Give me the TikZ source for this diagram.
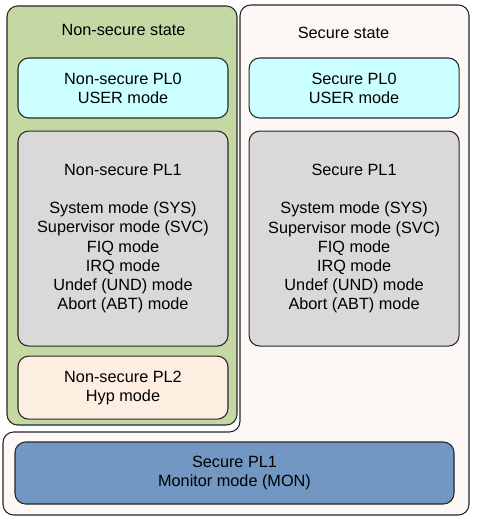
\documentclass[tikz,border=0pt]{standalone}
\usepackage{fontspec}
\setmainfont{Liberation Sans}
\usetikzlibrary{positioning}

\definecolor{nsgreen}{RGB}{197,216,164}
\definecolor{secpink}{RGB}{253,248,246}
\definecolor{plzero}{RGB}{204,255,255}
\definecolor{plone}{RGB}{217,217,217}
\definecolor{pltwo}{RGB}{253,238,226}
\definecolor{monblue}{RGB}{113,151,194}

\tikzset{
  modebox/.style={rectangle, rounded corners=8pt, draw=black!85, line width=0.8pt, align=center, inner sep=0pt, minimum width=157.5pt},
  statetext/.style={inner sep=0pt},
  every node/.style={font=\fontsize{12.2}{14.3}\selectfont}
}

\begin{document}
\begin{tikzpicture}[x=0.75pt, y=-0.75pt]
        \useasboundingbox (0,0) rectangle (476,523);

        \path[fill=secpink, draw=black!85, line width=0.8pt, rounded corners=8pt]
          (240,5) -- (469,5) -- (469,515) -- (3,515) -- (3,432) -- (240,432) -- cycle;
        \node[rectangle, rounded corners=8pt, draw=black!85, line width=0.8pt, fill=nsgreen, minimum width=172.5pt, minimum height=314.25pt, inner sep=0pt] (nsstate) at (122,215.5) {};

        \node[statetext] (nslabel) at (123.5,30) {Non-secure state};
        \node[statetext] (slabel) at (343.5,33) {Secure state};

        \node[modebox, fill=plzero, minimum height=45pt] (nsPLzero) at (123,88) {Non-secure PL0\\USER mode};
        \node[modebox, fill=plzero, minimum height=45pt] (sPLzero) [right = 15pt of nsPLzero] {Secure PL0\\USER mode};
        \node[modebox, fill=plone, minimum height=161.25pt] (nsPLone) [below = 9pt of nsPLzero] {Non-secure PL1\\[14.3pt]System mode (SYS)\\Supervisor mode (SVC)\\FIQ mode\\IRQ mode\\Undef (UND) mode\\Abort (ABT) mode};
        \node[modebox, fill=plone, minimum height=161.25pt] (sPLone) [below = 9pt of sPLzero] {Secure PL1\\[14.3pt]System mode (SYS)\\Supervisor mode (SVC)\\FIQ mode\\IRQ mode\\Undef (UND) mode\\Abort (ABT) mode};
        \node[modebox, fill=pltwo, minimum height=47.25pt] (nsPLtwo) [below = 6.75pt of nsPLone] {Non-secure PL2\\Hyp mode};
        \node[modebox, fill=monblue, minimum width=329.25pt, minimum height=46.5pt] (monitor) at (234.5,473) {Secure PL1\\Monitor mode (MON)};
      \end{tikzpicture}
\end{document}
